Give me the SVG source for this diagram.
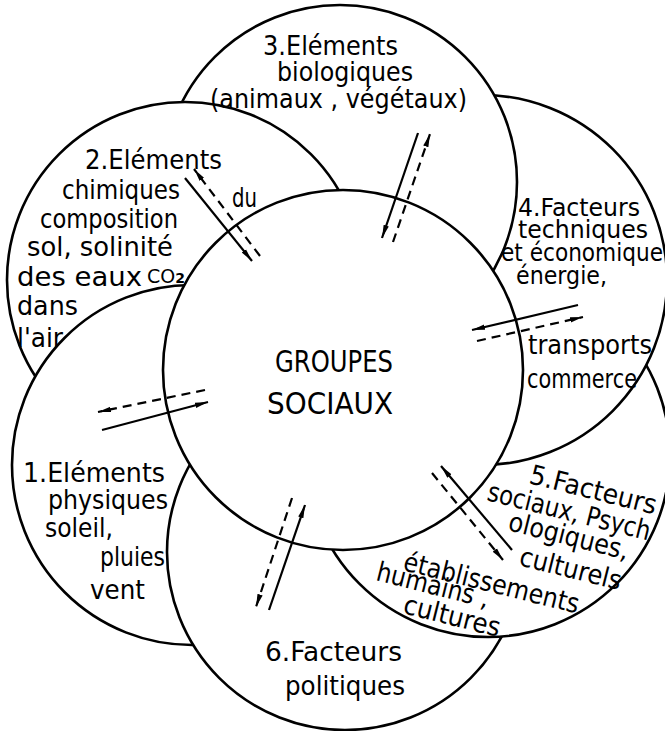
<svg xmlns="http://www.w3.org/2000/svg" width="665" height="731" viewBox="0 0 665 731">
<style>
.ring{fill:none;stroke:#000;stroke-width:2.6}
.core{fill:none;stroke:#000;stroke-width:2.6}
.lbl{font-family:"DejaVu Sans","Liberation Sans",sans-serif;font-size:27px;fill:#000}
.big{font-size:30px}
.sm{font-size:24px}
.sol{stroke:#000;stroke-width:2.2;fill:none;marker-end:url(#ah)}
.dsh{stroke:#000;stroke-width:2.2;fill:none;stroke-dasharray:9 6;marker-end:url(#ah)}
</style>
<defs>
<circle id="k0" cx="343" cy="370" r="180"/>
<circle id="k1" cx="192" cy="465" r="180"/>
<circle id="k2" cx="185" cy="280" r="178"/>
<circle id="k3" cx="340" cy="182" r="177"/>
<circle id="k4" cx="482" cy="280" r="185"/>
<circle id="k5" cx="488" cy="455" r="182"/>
<circle id="k6" cx="345" cy="552" r="178"/>
<mask id="m1" maskUnits="userSpaceOnUse" x="0" y="0" width="665" height="731"><rect width="665" height="731" fill="#fff"/><use href="#k0" fill="#000"/><use href="#k6" fill="#000"/></mask>
<mask id="m2" maskUnits="userSpaceOnUse" x="0" y="0" width="665" height="731"><rect width="665" height="731" fill="#fff"/><use href="#k0" fill="#000"/><use href="#k1" fill="#000"/></mask>
<mask id="m3" maskUnits="userSpaceOnUse" x="0" y="0" width="665" height="731"><rect width="665" height="731" fill="#fff"/><use href="#k0" fill="#000"/><use href="#k2" fill="#000"/></mask>
<mask id="m4" maskUnits="userSpaceOnUse" x="0" y="0" width="665" height="731"><rect width="665" height="731" fill="#fff"/><use href="#k0" fill="#000"/><use href="#k3" fill="#000"/></mask>
<mask id="m5" maskUnits="userSpaceOnUse" x="0" y="0" width="665" height="731"><rect width="665" height="731" fill="#fff"/><use href="#k0" fill="#000"/><use href="#k4" fill="#000"/></mask>
<mask id="m6" maskUnits="userSpaceOnUse" x="0" y="0" width="665" height="731"><rect width="665" height="731" fill="#fff"/><use href="#k0" fill="#000"/><use href="#k5" fill="#000"/></mask>
<marker id="ah" markerUnits="userSpaceOnUse" viewBox="0 0 14 8" markerWidth="14" markerHeight="8" refX="13" refY="4" orient="auto"><path d="M0,1.3 L13,4 L0,6.7 z" fill="#000" stroke="none"/></marker>
</defs>
<rect width="665" height="731" fill="#fff"/>

<g id="node-center">
<use href="#k0" class="core"/>
<text class="lbl big" x="275" y="372" textLength="118" lengthAdjust="spacingAndGlyphs">GROUPES</text>
<text class="lbl big" x="267" y="414" textLength="126" lengthAdjust="spacingAndGlyphs">SOCIAUX</text>
</g>

<g id="node-1">
<use href="#k1" class="ring" mask="url(#m1)"/>
<text class="lbl" x="23" y="482" textLength="142" lengthAdjust="spacingAndGlyphs">1.Eléments</text>
<text class="lbl" x="48" y="509" textLength="120" lengthAdjust="spacingAndGlyphs">physiques</text>
<text class="lbl" x="45" y="537" textLength="68" lengthAdjust="spacingAndGlyphs">soleil,</text>
<text class="lbl" x="100" y="566" textLength="65" lengthAdjust="spacingAndGlyphs">pluies</text>
<text class="lbl" x="90" y="599" textLength="55" lengthAdjust="spacingAndGlyphs">vent</text>
</g>

<g id="node-2">
<use href="#k2" class="ring" mask="url(#m2)"/>
<text class="lbl" x="85" y="169" textLength="137" lengthAdjust="spacingAndGlyphs">2.Eléments</text>
<text class="lbl" x="62" y="199" textLength="118" lengthAdjust="spacingAndGlyphs">chimiques</text>
<text class="lbl" x="232" y="207" textLength="25" lengthAdjust="spacingAndGlyphs">du</text>
<text class="lbl" x="40" y="228" textLength="138" lengthAdjust="spacingAndGlyphs">composition</text>
<text class="lbl" x="27" y="256" textLength="146" lengthAdjust="spacingAndGlyphs">sol, solinité</text>
<text class="lbl" x="17" y="286" textLength="125" lengthAdjust="spacingAndGlyphs">des eaux</text>
<text class="lbl" x="147" y="283" style="font-size:19px">CO<tspan style="font-size:14px;font-weight:bold">2</tspan></text>
<text class="lbl" x="17" y="315" textLength="61" lengthAdjust="spacingAndGlyphs">dans</text>
<text class="lbl" x="17" y="347" textLength="46" lengthAdjust="spacingAndGlyphs">l'air</text>
</g>

<g id="node-3">
<use href="#k3" class="ring" mask="url(#m3)"/>
<text class="lbl" x="263" y="55" textLength="135" lengthAdjust="spacingAndGlyphs">3.Eléments</text>
<text class="lbl" x="277" y="81" textLength="136" lengthAdjust="spacingAndGlyphs">biologiques</text>
<text class="lbl" x="210" y="108" textLength="257" lengthAdjust="spacingAndGlyphs">(animaux , végétaux)</text>
</g>

<g id="node-4">
<use href="#k4" class="ring" mask="url(#m4)"/>
<text class="lbl sm" x="518" y="216" textLength="122" lengthAdjust="spacingAndGlyphs">4.Facteurs</text>
<text class="lbl sm" x="518" y="238" textLength="130" lengthAdjust="spacingAndGlyphs">techniques</text>
<text class="lbl sm" x="501" y="261" textLength="162" lengthAdjust="spacingAndGlyphs">et économique</text>
<text class="lbl sm" x="516" y="284" textLength="91" lengthAdjust="spacingAndGlyphs">énergie,</text>
<text class="lbl" x="528" y="354" textLength="124" lengthAdjust="spacingAndGlyphs">transports</text>
<text class="lbl" x="527" y="388" textLength="110" lengthAdjust="spacingAndGlyphs">commerce</text>
</g>

<g id="node-5">
<use href="#k5" class="ring" mask="url(#m5)"/>
<text class="lbl" transform="translate(528 483) rotate(14)" textLength="130" lengthAdjust="spacingAndGlyphs">5.Facteurs</text>
<text class="lbl" transform="translate(486 500) rotate(14)" textLength="167" lengthAdjust="spacingAndGlyphs">sociaux, Psych</text>
<text class="lbl" transform="translate(507 530) rotate(14)" textLength="123" lengthAdjust="spacingAndGlyphs">ologiques,</text>
<text class="lbl" transform="translate(518 565) rotate(14)" textLength="104" lengthAdjust="spacingAndGlyphs">culturels</text>
<text class="lbl" transform="translate(402 570) rotate(14)" textLength="180" lengthAdjust="spacingAndGlyphs">établissements</text>
<text class="lbl" transform="translate(375 580) rotate(14)" textLength="115" lengthAdjust="spacingAndGlyphs">humains ,</text>
<text class="lbl" transform="translate(402 613) rotate(14)" textLength="99" lengthAdjust="spacingAndGlyphs">cultures</text>
</g>

<g id="node-6">
<use href="#k6" class="ring" mask="url(#m6)"/>
<text class="lbl" x="265" y="661" textLength="137" lengthAdjust="spacingAndGlyphs">6.Facteurs</text>
<text class="lbl" x="285" y="695" textLength="120" lengthAdjust="spacingAndGlyphs">politiques</text>
</g>

<g id="connectors">
<line class="sol" x1="102" y1="430" x2="208" y2="402"/>
<line class="dsh" x1="205" y1="390" x2="98" y2="412"/>
<line class="sol" x1="185" y1="178" x2="252" y2="261"/>
<line class="dsh" x1="260" y1="256" x2="194" y2="169"/>
<line class="sol" x1="418" y1="133" x2="382" y2="238"/>
<line class="dsh" x1="393" y1="242" x2="430" y2="134"/>
<line class="sol" x1="578" y1="305" x2="472" y2="330"/>
<line class="dsh" x1="477" y1="341" x2="583" y2="317"/>
<line class="sol" x1="512" y1="550" x2="441" y2="466"/>
<line class="dsh" x1="432" y1="473" x2="503" y2="560"/>
<line class="sol" x1="269" y1="610" x2="305" y2="505"/>
<line class="dsh" x1="292" y1="498" x2="256" y2="607"/>
</g>
</svg>
